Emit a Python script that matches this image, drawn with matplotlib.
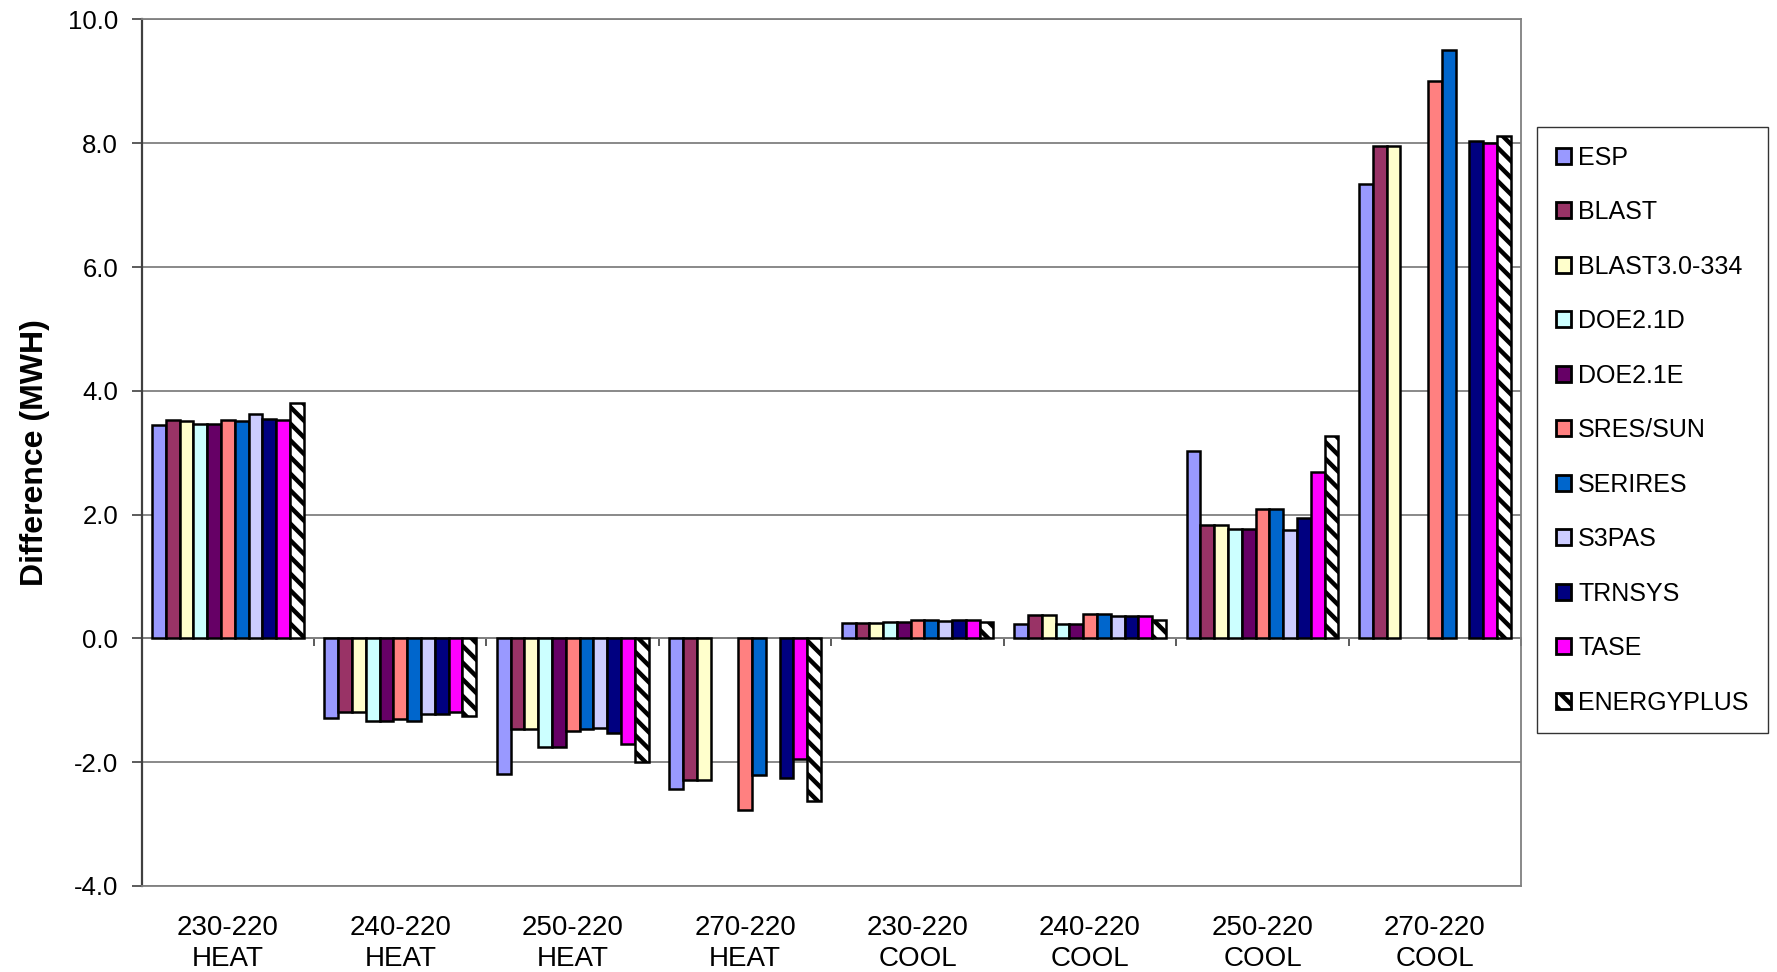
import numpy as np
import matplotlib
matplotlib.use("Agg")
import matplotlib.pyplot as plt

plt.rcParams['font.family'] = ['Liberation Sans', 'DejaVu Sans']
plt.rcParams['hatch.linewidth'] = 3.2

categories = ["230-220\nHEAT", "240-220\nHEAT", "250-220\nHEAT", "270-220\nHEAT",
              "230-220\nCOOL", "240-220\nCOOL", "250-220\nCOOL", "270-220\nCOOL"]
nan = np.nan

esp        = [3.44, -1.28, -2.19, -2.44, 0.25, 0.23, 3.02, 7.34]
blast      = [3.53, -1.19, -1.47, -2.29, 0.25, 0.37, 1.84, 7.96]
blast3     = [3.52, -1.19, -1.47, -2.29, 0.25, 0.37, 1.84, 7.96]
doe21d     = [3.46, -1.33, -1.76, nan, 0.27, 0.24, 1.77, nan]
doe21e     = [3.46, -1.33, -1.76, nan, 0.27, 0.24, 1.77, nan]
sres_sun   = [3.53, -1.31, -1.50, -2.77, 0.29, 0.40, 2.09, 9.00]
serires    = [3.52, -1.33, -1.47, -2.20, 0.29, 0.40, 2.09, 9.50]
s3pas      = [3.62, -1.22, -1.44, nan, 0.275, 0.36, 1.75, nan]
trnsys     = [3.55, -1.22, -1.53, -2.26, 0.30, 0.36, 1.95, 8.03]
tase       = [3.53, -1.19, -1.70, -1.95, 0.30, 0.355, 2.69, 8.01]
energyplus = [3.80, -1.25, -2.00, -2.63, 0.27, 0.29, 3.27, 8.11]

series_names = ["ESP", "BLAST", "BLAST3.0-334", "DOE2.1D", "DOE2.1E", "SRES/SUN",
                "SERIRES", "S3PAS", "TRNSYS", "TASE", "ENERGYPLUS"]
series_values = [esp, blast, blast3, doe21d, doe21e, sres_sun, serires, s3pas,
                 trnsys, tase, energyplus]
colors = ["#9999FF", "#993366", "#FFFFCC", "#CCFFFF", "#660066", "#FF8080",
          "#0066CC", "#CCCCFF", "#000080", "#FF00FF", "#FFFFFF"]
hatches = [None] * 10 + ["\\\\"]

yticks = [-4, -2, 0, 2, 4, 6, 8, 10]

fig = plt.figure(figsize=(17.77, 9.72), dpi=100)
ax = fig.add_axes([0.0797, 0.0885, 0.856 - 0.0797, 0.980 - 0.0885])

n = len(series_names)
group_w = 0.88
bw = group_w / n
x = np.arange(len(categories))
for i, (name, vals, col, h) in enumerate(zip(series_names, series_values, colors, hatches)):
    ax.bar(x + (i - (n - 1) / 2) * bw, vals, bw, color=col, edgecolor="black",
           linewidth=1.8, hatch=h, label=name, zorder=3)

ax.set_xlim(-0.5, len(categories) - 0.5)
ax.set_ylim(-4, 10)
ax.set_yticks(yticks)
ax.set_yticklabels([f"{v:.1f}" for v in yticks], fontsize=18.5)
ax.set_xticks(x)
ax.set_xticklabels(categories, fontsize=20, linespacing=1.22)
ax.tick_params(axis="x", length=0, pad=21)
ax.tick_params(axis="y", direction="out", length=7, width=1.2, color="#404040", pad=10)

ax.yaxis.grid(True, color="#808080", linewidth=1.3)
ax.set_axisbelow(True)
for s in ["top", "right", "bottom"]:
    ax.spines[s].set_color("#808080")
    ax.spines[s].set_linewidth(1.3)
ax.spines["left"].set_color("#404040")
ax.spines["left"].set_linewidth(1.6)

# category axis crossing at zero with tick marks between categories
zero_pos = (0 - ax.get_ylim()[0]) / (ax.get_ylim()[1] - ax.get_ylim()[0])
sec = ax.secondary_xaxis(zero_pos)
sec.set_xticks(np.arange(-0.5, len(categories), 1.0))
sec.set_xticklabels([])
sec.tick_params(direction="out", length=6, width=1.2, color="#404040")
sec.spines["bottom"].set_color("#808080")
sec.spines["bottom"].set_linewidth(1.3)

ax.set_ylabel("Difference (MWH)", fontsize=23, fontweight="bold", labelpad=13)

leg = fig.legend(loc="upper left", bbox_to_anchor=(1537 / 1777, 1 - 127 / 972),
                 fontsize=18, frameon=True, fancybox=False, edgecolor="black",
                 handlelength=0.6, handleheight=0.6, handletextpad=0.3,
                 labelspacing=1.22, borderpad=0.75, borderaxespad=0)
leg.get_frame().set_linewidth(1.0)
for hnd in leg.legend_handles:
    hnd.set_linewidth(2.0)

fig.savefig("out.png", dpi=100)
